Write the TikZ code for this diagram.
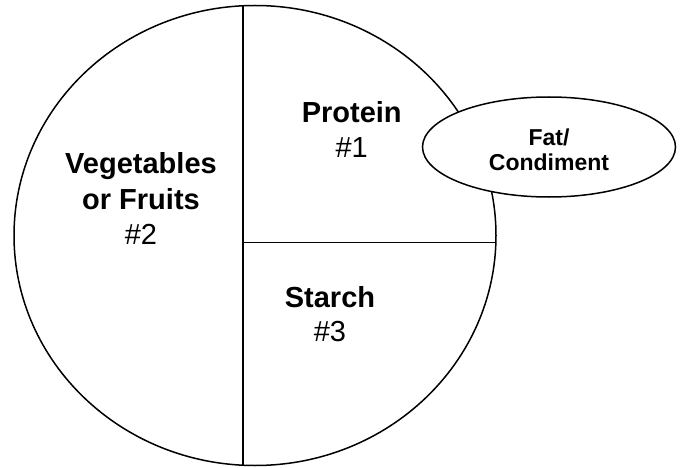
\documentclass[tikz,border=0pt]{standalone}
\usepackage{fontspec}
\setmainfont{Liberation Sans}
\usetikzlibrary{shapes.geometric}
\begin{document}
\begin{tikzpicture}[x=1pt,y=-1pt,
  outline/.style={draw=black, line width=1.5pt},
  biglabel/.style={align=center, inner sep=0pt, font=\fontsize{29}{34.5}\selectfont},
  veglabel/.style={align=center, inner sep=0pt, font=\fontsize{29}{35.2}\selectfont},
  fatlabel/.style={align=center, inner sep=0pt, font=\fontsize{23}{24.5}\selectfont\bfseries}]
\useasboundingbox (0,0) rectangle (683,468);
% plate
\node[outline, ellipse, inner sep=0pt, minimum width=482pt, minimum height=460pt] (plate) at (255,235.5) {};
\coordinate (vtop) at (243,5.8);
\coordinate (vbot) at (243,465.2);
\coordinate (hmid) at (243,242.7);
\coordinate (hright) at (495.9,242.7);
\draw[outline] (vtop) -- (vbot);
\draw[outline] (hmid) -- (hright);
% fat / condiment
\node[outline, ellipse, fill=white, inner sep=0pt, minimum width=253pt, minimum height=100pt] (fat) at (549,147) {};
\node[fatlabel] (fattext) at (549,150) {Fat/\\Condiment};
% labels
\node[veglabel] (veg) at (141,198.5) {\textbf{Vegetables}\\\textbf{or Fruits}\\\#2};
\node[biglabel] (protein) at (351.7,129.3) {\textbf{Protein}\\\#1};
\node[biglabel] (starch) at (330,314) {\textbf{Starch}\\\#3};
\end{tikzpicture}
\end{document}
